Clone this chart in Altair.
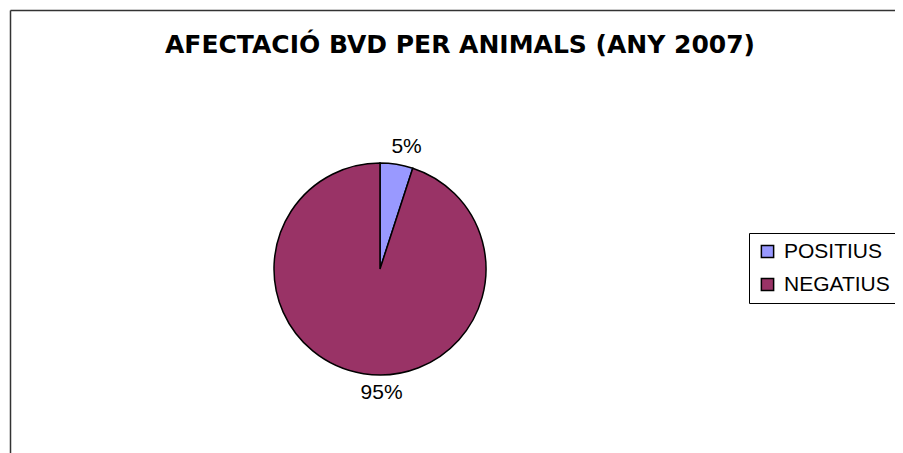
import altair as alt
import pandas as pd

categories = ["POSITIUS", "NEGATIUS"]
values = [5, 95]
labels = ["5%", "95%"]
colors = ["#9999FF", "#993366"]
title_text = "AFECTACIÓ BVD PER ANIMALS (ANY 2007)"

df = pd.DataFrame({"cat": categories, "val": values, "label": labels, "ord": [0, 1]})
one = pd.DataFrame({"t": [title_text]})

CX, CY, R = 372, 261, 106

base = alt.Chart(df).encode(
    theta=alt.Theta("val:Q", stack=True),
    order=alt.Order("ord:Q"),
)

pie = base.mark_arc(radius=R, stroke="black", strokeWidth=1.5).encode(
    x=alt.value(CX),
    y=alt.value(CY),
    color=alt.Color(
        "cat:N",
        scale=alt.Scale(domain=categories, range=colors),
        legend=alt.Legend(
            title=None,
            orient="none",
            legendX=741,
            legendY=225,
            symbolType="square",
            symbolSize=150,
            symbolStrokeColor="black",
            symbolStrokeWidth=1.5,
            labelFont="Liberation Sans",
            labelFontSize=21,
            labelColor="black",
            labelOffset=6,
            rowPadding=11,
            padding=8,
            strokeColor="black",
            fillColor="white",
        ),
    ),
)

lab_pos = base.transform_filter(alt.datum.cat == "POSITIUS").mark_text(
    radius=125, font="Liberation Sans", fontSize=21, color="black", baseline="middle", dx=7, dy=1
).encode(x=alt.value(CX), y=alt.value(CY), text="label:N")

lab_neg = base.transform_filter(alt.datum.cat == "NEGATIUS").mark_text(
    radius=125, font="Liberation Sans", fontSize=21, color="black", baseline="middle", dx=-18, dy=1
).encode(x=alt.value(CX), y=alt.value(CY), text="label:N")

title = alt.Chart(one).mark_text(
    font="DejaVu Sans", fontWeight="bold", fontSize=25, color="black",
    align="center", baseline="alphabetic"
).encode(x=alt.value(452), y=alt.value(45), text="t:N")

frame_top = alt.Chart(one).mark_rule(color="#333333", strokeWidth=1.5).encode(
    x=alt.value(2.5), x2=alt.value(900), y=alt.value(2.5)
)
frame_left = alt.Chart(one).mark_rule(color="#333333", strokeWidth=1.5).encode(
    x=alt.value(2.5), y=alt.value(2.5), y2=alt.value(460)
)

chart = alt.layer(frame_top, frame_left, title, pie, lab_pos, lab_neg).properties(
    width=887, height=445, autosize=alt.AutoSizeParams(type="none"), padding=0
).configure_view(stroke=None)

chart.save("out.html", embed_options={"renderer": "svg", "actions": False})
